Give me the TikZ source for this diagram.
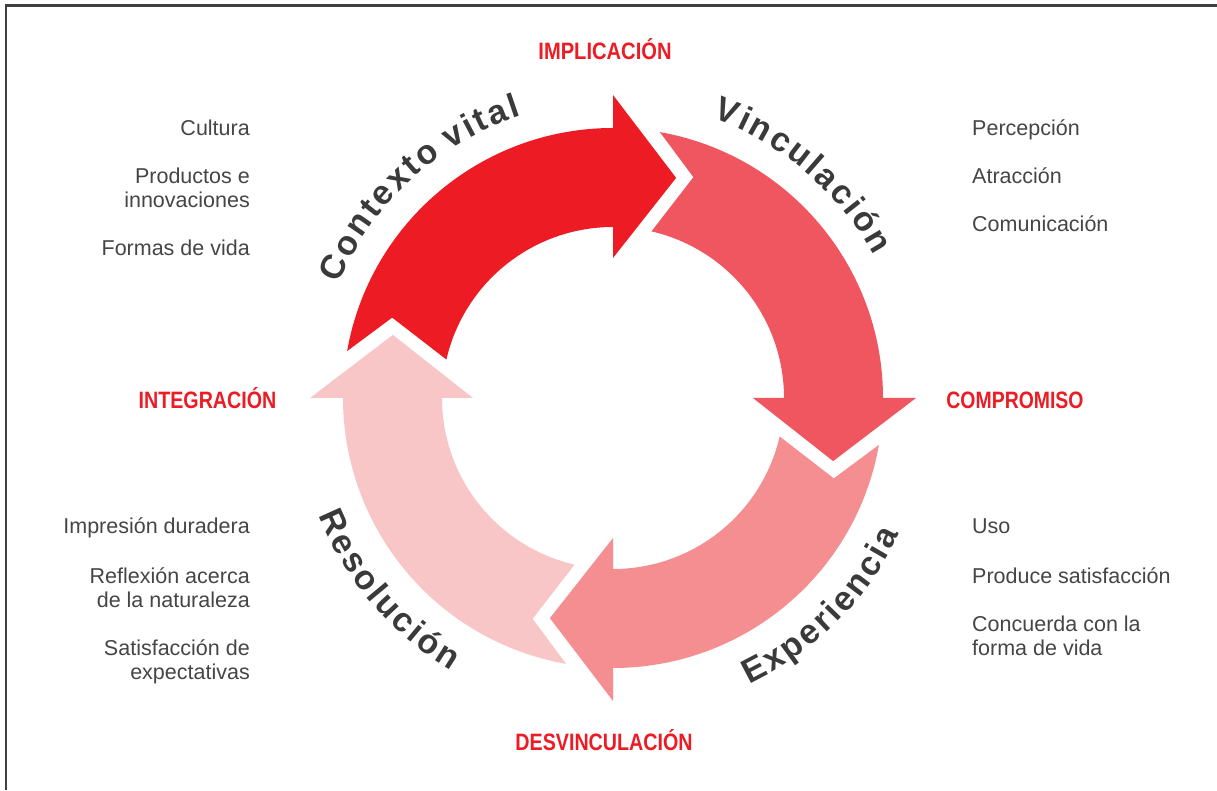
\documentclass[tikz,border=0pt]{standalone}
\usepackage{fontspec}
\setmainfont{Liberation Sans}
\newfontfamily\arcfont{Liberation Sans Bold}
\newfontfamily\capfont{Liberation Sans Bold}
\usetikzlibrary{decorations.text}
\definecolor{redA}{HTML}{ED1C24}
\definecolor{redB}{HTML}{F05660}
\definecolor{redC}{HTML}{F58E90}
\definecolor{redD}{HTML}{F9C6C8}
\definecolor{labelred}{HTML}{ED1C24}
\definecolor{darktext}{HTML}{3A3A3A}
\definecolor{listtext}{HTML}{454545}
\definecolor{framegray}{HTML}{404040}
\newcommand\arcstyle{\arcfont\fontsize{34}{34}\selectfont}
\newcommand\tk{\kern2.6pt}
\newcommand\cyclearrow[2]{%
  \fill[#2] ({#1+80}:270) arc[start angle={#1+80}, end angle={#1}, radius=270]
    -- ({#1}:303) -- ({#1-16}:229) -- ({#1}:140) -- ({#1}:171)
    arc[start angle={#1}, end angle={#1+77}, radius=171]
    -- ({#1+70}:235) -- cycle;}
\tikzset{
  listtxt/.style={inner sep=0pt, text=listtext, font=\fontsize{21.5}{24}\selectfont},
  stagetxt/.style={inner sep=0pt, text=labelred, font=\capfont\fontsize{23.7}{24}\selectfont},
  arclabel/.style={decorate, decoration={text along path, text align=center, text color=darktext}}
}
\begin{document}
\begin{tikzpicture}[x=1pt,y=1pt]
\useasboundingbox (0,0) rectangle (1217,790);
\draw[framegray, line width=2.2pt] (6,0) -- (6,784.5) -- (1217,784.5);
\begin{scope}[shift={(613,392)}]
  \cyclearrow{90}{redA}
  \cyclearrow{0}{redB}
  \cyclearrow{-90}{redC}
  \cyclearrow{180}{redD}
  \path[arclabel, decoration={text={|\arcstyle|{C\tk}{o\tk}{n\tk}{t\tk}{e\tk}{x\tk}{t\tk}{o\tk} {v\tk}{i\tk}{t\tk}{a\tk}{l}}}]
    (172.7:297) arc[start angle=172.7, end angle=92.7, radius=297];
  \path[arclabel, decoration={text={|\arcstyle|{V\tk}{i\tk}{n\tk}{c\tk}{u\tk}{l\tk}{a\tk}{c\tk}{i\tk}{ó\tk}{n}}}]
    (89.5:297) arc[start angle=89.5, end angle=9.5, radius=297];
  \path[arclabel, decoration={text={|\arcstyle|{E\tk}{x\tk}{p\tk}{e\tk}{r\tk}{i\tk}{e\tk}{n\tk}{c\tk}{i\tk}{a}}}]
    (-85:317) arc[start angle=-85, end angle=-5, radius=317];
  \path[arclabel, decoration={text={|\arcstyle|{R\tk}{e\tk}{s\tk}{o\tk}{l\tk}{u\tk}{c\tk}{i\tk}{ó\tk}{n}}}]
    (180.5:317) arc[start angle=180.5, end angle=260.5, radius=317];
\end{scope}
% stage labels
\node[stagetxt, anchor=base] (impl) at (605,730) {\scalebox{0.85}[1]{IMPLICACIÓN}};
\node[stagetxt, anchor=base] (comp) at (1015,381.5) {\scalebox{0.82}[1]{COMPROMISO}};
\node[stagetxt, anchor=base] (desv) at (604,39.5) {\scalebox{0.83}[1]{DESVINCULACIÓN}};
\node[stagetxt, anchor=base] (integ) at (207.5,381.5) {\scalebox{0.83}[1]{INTEGRACIÓN}};
% left top list
\node[listtxt, anchor=base east] (lt1) at (250,654) {Cultura};
\node[listtxt, anchor=base east] (lt2) at (250,606) {Productos e\ };
\node[listtxt, anchor=base east] (lt3) at (250,582) {innovaciones};
\node[listtxt, anchor=base east] (lt4) at (250,534) {Formas de vida};
% right top list
\node[listtxt, anchor=base west] (rt1) at (972,654) {Percepción};
\node[listtxt, anchor=base west] (rt2) at (972,606) {Atracción};
\node[listtxt, anchor=base west] (rt3) at (972,558) {Comunicación};
% left bottom list
\node[listtxt, anchor=base east] (lb1) at (250,256) {Impresión duradera};
\node[listtxt, anchor=base east] (lb2) at (250,207) {Reflexión acerca};
\node[listtxt, anchor=base east] (lb3) at (250,183) {de la naturaleza};
\node[listtxt, anchor=base east] (lb4) at (250,135) {Satisfacción de\ };
\node[listtxt, anchor=base east] (lb5) at (250,111) {expectativas};
% right bottom list
\node[listtxt, anchor=base west] (rb1) at (972,256) {Uso};
\node[listtxt, anchor=base west] (rb2) at (972,207) {Produce satisfacción};
\node[listtxt, anchor=base west] (rb3) at (972,159) {Concuerda con la};
\node[listtxt, anchor=base west] (rb4) at (972,135) {forma de vida};
\end{tikzpicture}
\end{document}
